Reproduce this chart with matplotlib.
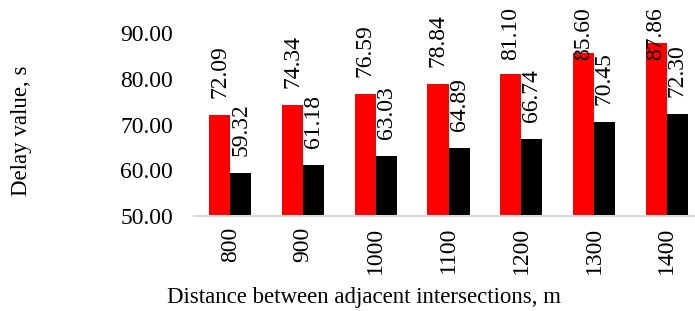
import matplotlib
matplotlib.use("Agg")
from matplotlib import pyplot as plt
import numpy as np

distances = ['800', '900', '1000', '1100', '1200', '1300', '1400']
series_red = [72.09, 74.34, 76.59, 78.84, 81.10, 85.60, 87.86]
series_black = [59.32, 61.18, 63.03, 64.89, 66.74, 70.45, 72.30]

plt.rcParams['font.family'] = ['Liberation Serif', 'DejaVu Serif']

fig = plt.figure(figsize=(6.95, 3.11), dpi=100)
ax = fig.add_axes([194 / 695, 95 / 311, (695 - 194) / 695, 216 / 311])

x = np.arange(len(distances))
w = 0.29
ax.bar(x - w / 2, series_red, w, bottom=0, color='#ff0000', zorder=2)
ax.bar(x + w / 2, series_black, w, bottom=0, color='#000000', zorder=2)

ax.set_ylim(50, 50 + 216 / 4.575)
ax.set_xlim(-0.5, 6.5 - (703 - 695) / 72.7)

# labels sit above the bars but stay inside the plot area
gap = 17 / 4.575
top_limit = 84.2
for xs, vals in ((x - w / 2, series_red), (x + w / 2, series_black)):
    for xi, v in zip(xs, vals):
        ax.text(xi, min(v + gap, top_limit), f'{v:.2f}', rotation=90,
                ha='center', va='bottom', fontsize=17, zorder=3)

ax.set_yticks([50, 60, 70, 80, 90])
ax.set_yticklabels([f'{t:.2f}' for t in [50, 60, 70, 80, 90]], fontsize=17)
ax.set_xticks(x)
ax.set_xticklabels(distances, rotation=90, fontsize=17)
ax.tick_params(length=0)
ax.tick_params(axis='y', pad=15)
ax.tick_params(axis='x', pad=8)

for s in ['top', 'right', 'left']:
    ax.spines[s].set_visible(False)
ax.spines['bottom'].set_color('#d9d9d9')
ax.spines['bottom'].set_linewidth(1.5)

fig.text(364 / 695, 1 - 297 / 311, 'Distance between adjacent intersections, m',
         ha='center', va='center', fontsize=16.5)
fig.text(22 / 695, 1 - 131 / 311, 'Delay value, s', rotation=90,
         ha='center', va='center', fontsize=16.5)

fig.savefig('out.png', dpi=100)
